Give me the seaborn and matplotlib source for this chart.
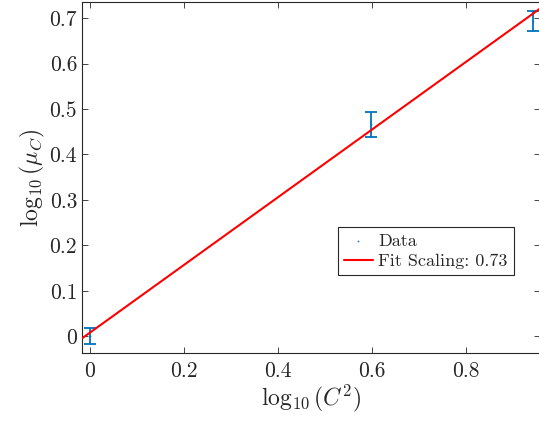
import numpy as np
import pandas as pd
import matplotlib
matplotlib.use("Agg")
import matplotlib.pyplot as plt
import seaborn as sns

# Data
log_c2 = [0.0, 0.597, 0.943]
log_mu = [0.0, 0.466, 0.694]
err = [0.018, 0.028, 0.022]
fit_slope = 0.745
fit_intercept = 0.008
fit_label = "Fit Scaling: 0.73"
x_ticks = [0, 0.2, 0.4, 0.6, 0.8]
y_ticks = [0, 0.1, 0.2, 0.3, 0.4, 0.5, 0.6, 0.7]

sns.set_theme(style="white")
plt.rcParams["font.family"] = ["cmr10", "DejaVu Serif"]
plt.rcParams["mathtext.fontset"] = "cm"
plt.rcParams["axes.formatter.use_mathtext"] = True

fig = plt.figure(figsize=(5.39, 4.28), dpi=100)
ax = fig.add_axes([0.152, 0.175, 0.850, 0.820])

xlim = (-0.017, 0.957)
ylim = (-0.037, 0.735)

df = pd.DataFrame({"x": log_c2, "y": log_mu, "e": err})
blue = "#0072BD"
ax.errorbar(df["x"], df["y"], yerr=df["e"], fmt="none", ecolor=blue,
            elinewidth=1.3, capsize=4, capthick=1.3, zorder=2)
sns.scatterplot(data=df, x="x", y="y", ax=ax, marker=".", s=6, color=blue,
                edgecolor=blue, linewidth=0, label="Data", zorder=3)

fit_df = pd.DataFrame({"x": list(xlim)})
fit_df["y"] = fit_slope * fit_df["x"] + fit_intercept
sns.lineplot(data=fit_df, x="x", y="y", ax=ax, color="red", linewidth=1.5,
             label=fit_label, zorder=4)

ax.set_xlim(*xlim)
ax.set_ylim(*ylim)
ax.set_xticks(x_ticks)
ax.set_yticks(y_ticks)
ax.set_xticklabels(["0", "0.2", "0.4", "0.6", "0.8"])
ax.set_yticklabels(["0", "0.1", "0.2", "0.3", "0.4", "0.5", "0.6", "0.7"])
ax.tick_params(direction="in", length=4, width=0.6, colors="#262626",
               labelsize=15.5, top=True, right=True, left=True, bottom=True,
               labelcolor="#262626")
ax.tick_params(axis="x", pad=6)
for s in ax.spines.values():
    s.set_color("#262626")
    s.set_linewidth(0.8)
    s.set_visible(True)

ax.set_xlabel(r"$\log_{10}(C^2)$", fontsize=17, color="#262626", labelpad=1)
ax.set_ylabel(r"$\log_{10}(\mu_C)$", fontsize=17, color="#262626", labelpad=2)

leg = ax.legend(loc="lower right", bbox_to_anchor=(0.943, 0.222), fontsize=13,
                frameon=True, fancybox=False, framealpha=1, edgecolor="#262626",
                borderpad=0.35, handlelength=1.6, handletextpad=0.3,
                labelspacing=0.25, markerscale=1.0, borderaxespad=0)
leg.get_frame().set_linewidth(0.8)

fig.savefig("out.png", dpi=100)
